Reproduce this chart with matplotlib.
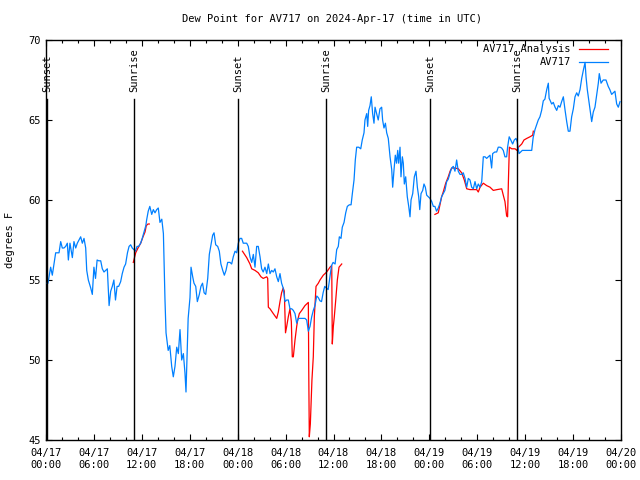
import numpy as np
import pandas as pd
import matplotlib
matplotlib.use("Agg")
import matplotlib.pyplot as plt
import matplotlib.dates as mdates
from matplotlib.ticker import MultipleLocator

plt.rcParams["font.family"] = ["DejaVu Sans Mono"]
FS = 7.5

START = pd.Timestamp("2024-04-17 00:00")

# AV717 observed dew point (hours after 04/17 00:00 UTC, deg F)
obs_hours = [
    0.16, 0.25, 0.58, 0.79, 1.21, 1.63, 1.84, 2.04, 2.25, 2.46, 2.67, 2.8, 3.0, 3.3, 3.5,
    3.72, 3.92, 4.13, 4.34, 4.55, 4.76, 4.97, 5.1, 5.3, 5.6, 5.8, 6.0, 6.2, 6.4, 6.6,
    6.85, 7.05, 7.26, 7.68, 7.9, 8.1, 8.3, 8.5, 8.7, 8.9, 9.1, 9.35, 9.55, 9.77, 9.97,
    10.2, 10.4, 10.6, 10.8, 11.0, 11.2, 11.4, 11.6, 11.85, 12.05, 12.27, 12.5, 12.6, 12.8,
    13.0, 13.24, 13.44, 13.65, 13.86, 14.06, 14.27, 14.5, 14.7, 14.78, 14.9, 15.03, 15.3,
    15.5, 15.74, 15.94, 16.15, 16.37, 16.57, 16.78, 16.99, 17.2, 17.4, 17.53, 17.7, 17.8,
    18.03, 18.16, 18.37, 18.53, 18.75, 18.95, 19.2, 19.4, 19.6, 19.8, 20.0, 20.25, 20.45,
    20.66, 20.87, 21.04, 21.25, 21.5, 21.7, 21.9, 22.13, 22.33, 22.54, 22.75, 23.04, 23.25,
    23.45, 23.67, 23.88, 24.08, 24.29, 24.5, 24.7, 25.13, 25.33, 25.54, 25.76, 25.96, 26.17,
    26.38, 26.58, 26.8, 27.0, 27.2, 27.42, 27.64, 27.84, 28.05, 28.26, 28.46, 28.67, 28.89,
    29.09, 29.3, 29.5, 29.7, 29.93, 30.14, 30.34, 30.55, 30.77, 30.97, 31.18, 31.39, 31.6,
    31.8, 32.2, 32.43, 32.64, 32.85, 33.06, 33.27, 33.47, 33.68, 33.9, 34.1, 34.3, 34.5,
    34.7, 34.9, 35.1, 35.33, 35.5, 35.75, 35.95, 36.2, 36.4, 36.6, 36.73, 36.94, 37.1,
    37.32, 37.53, 37.73, 37.98, 38.2, 38.36, 38.57, 38.73, 38.9, 39.16, 39.41, 39.6, 39.82,
    39.94, 40.16, 40.28, 40.4, 40.57, 40.73, 40.9, 41.07, 41.2, 41.4, 41.6, 41.82, 42.03,
    42.15, 42.32, 42.5, 42.66, 42.86, 43.08, 43.29, 43.41, 43.58, 43.74, 43.9, 44.04, 44.16,
    44.33, 44.45, 44.62, 44.74, 44.87, 45.04, 45.24, 45.42, 45.58, 45.71, 45.92, 46.12,
    46.33, 46.5, 46.67, 46.8, 46.96, 47.17, 47.33, 47.5, 47.67, 47.87, 48.08, 48.3, 48.5,
    48.7, 48.9, 49.12, 49.33, 49.54, 49.74, 49.95, 50.17, 50.37, 50.6, 50.8, 51.0, 51.21,
    51.42, 51.62, 51.84, 52.05, 52.25, 52.47, 52.68, 52.88, 53.09, 53.3, 53.51, 53.72,
    53.93, 54.13, 54.35, 54.56, 54.76, 54.97, 55.18, 55.38, 55.6, 55.8, 55.93, 56.2, 56.43,
    56.63, 56.85, 57.05, 57.26, 57.47, 57.68, 57.8, 58.0, 58.2, 58.43, 58.64, 58.85, 59.0,
    59.23, 59.44, 59.64, 59.85, 60.1, 60.48, 60.82, 61.0, 61.23, 61.44, 61.64, 61.85, 62.06,
    62.27, 62.47, 62.7, 62.9, 63.0, 63.1, 63.32, 63.52, 63.74, 63.95, 64.15, 64.36, 64.57,
    64.78, 65.0, 65.2, 65.4, 65.61, 65.82, 66.03, 66.24, 66.45, 66.65, 66.87, 67.08, 67.28,
    67.5, 67.62, 67.78, 67.96, 68.12, 68.33, 68.53, 68.74, 68.96, 69.16, 69.28, 69.5, 69.78,
    70.12, 70.4, 70.6, 70.83, 71.03, 71.24, 71.46, 71.66, 71.88,
]
obs_dewpt = [
    54.8, 54.8, 55.8, 55.3, 56.7, 56.7, 57.4, 57.0, 57.0, 57.1, 57.3, 56.25, 57.3, 56.4, 57.4,
    57.0, 57.3, 57.5, 57.7, 57.3, 57.6, 57.0, 55.6, 55.0, 54.5, 54.1, 55.8, 55.1, 56.25, 56.2,
    56.2, 55.7, 55.5, 55.7, 53.4, 54.3, 54.6, 55.0, 53.75, 54.6, 54.6, 54.9, 55.4, 55.8, 56.0,
    56.7, 57.1, 57.2, 57.0, 56.9, 56.8, 57.1, 57.1, 57.3, 57.6, 58.0, 58.4, 58.75, 59.3,
    59.6, 59.1, 59.4, 59.2, 59.4, 59.5, 58.6, 58.8, 57.9, 56.25, 53.75, 51.7, 50.6,
    50.9, 49.6, 48.95, 49.6, 50.8, 50.4, 51.9, 50.0, 50.4, 49.2, 48.0, 50.8, 52.6,
    53.9, 55.8, 55.2, 54.8, 54.6, 53.65, 54.1, 54.6, 54.8, 54.2, 54.1, 55.1, 56.6,
    57.2, 57.8, 57.95, 57.2, 57.1, 56.8, 56.0, 55.6, 55.3, 55.6, 56.1, 56.1, 56.0,
    56.45, 56.8, 56.7, 57.3, 57.6, 57.6, 57.3, 57.3, 57.1, 56.45, 56.1, 56.6, 55.8,
    57.1, 57.1, 56.45, 55.7, 55.5, 55.8, 55.4, 56.0, 55.4, 55.6, 55.5, 55.7, 55.2,
    54.9, 55.4, 54.8, 54.5, 53.65, 53.75, 53.75, 53.2, 53.2, 53.1, 52.9, 52.3, 52.6,
    52.6, 52.6, 52.6, 52.5, 51.8, 52.1, 52.7, 53.1, 53.4, 54.0, 53.9, 53.7, 53.65,
    54.2, 54.6, 54.5, 54.4, 55.0, 55.9, 56.1, 56.0, 56.9, 57.1, 57.7, 57.6, 58.3,
    58.6, 59.2, 59.6, 59.7, 59.7, 60.4, 61.25, 62.5, 63.3, 63.3, 63.2, 63.75, 64.2,
    65.0, 65.4, 64.6, 65.6, 65.9, 66.45, 65.4, 64.8, 65.8, 65.4, 65.0, 65.7, 65.8,
    65.0, 64.5, 64.8, 64.2, 63.85, 62.7, 61.9, 60.8, 61.9, 62.8, 62.3, 63.1, 62.3,
    63.3, 61.45, 62.7, 62.3, 61.0, 61.45, 60.2, 59.6, 58.95, 60.0, 60.4, 61.45,
    61.8, 60.8, 60.2, 59.4, 60.4, 60.6, 61.0, 60.8, 60.3, 60.2, 60.1, 59.9, 59.6,
    59.6, 59.3, 59.5, 59.8, 60.2, 60.4, 60.6, 61.15, 61.3, 61.7, 62.0, 62.1, 61.8,
    62.5, 61.8, 61.6, 61.6, 61.7, 61.35, 60.8, 61.35, 61.25, 60.8, 60.7, 61.15,
    60.7, 61.0, 60.8, 61.15, 62.7, 62.7, 62.6, 62.7, 62.8, 62.0, 62.9, 63.0, 63.0,
    63.3, 63.3, 63.25, 63.1, 62.7, 62.7, 63.3, 63.95, 63.75, 63.5, 63.75, 63.85, 63.65,
    62.9, 63.0, 63.1, 63.1, 63.1, 63.1, 63.1, 63.9, 64.4, 64.7, 65.0, 65.2, 65.6,
    66.2, 66.3, 66.9, 67.3, 66.35, 66.25, 66.0, 66.1, 65.8, 65.6, 65.9, 65.8, 66.15,
    66.45, 65.6, 64.9, 64.3, 64.3, 65.2, 65.7, 66.45, 66.7, 66.5, 66.9, 67.6, 68.1,
    68.6, 67.7, 66.9, 66.25, 65.7, 64.9, 65.5, 65.8, 66.6, 67.3, 67.9, 67.3, 67.5,
    67.5, 67.1, 66.9, 66.6, 66.7, 66.8, 66.0, 65.8, 66.15,
]

# AV717 Analysis (NaN marks gaps)
ana_hours = [
    10.93, 11.23, 11.52, 11.86, 12.15, 12.4, 12.56, 12.77, 12.93, 13.0,
    24.6, 25.13, 25.54, 25.76, 26.17, 26.58, 26.92, 27.2, 27.64, 27.76, 27.84, 28.05,
    28.46, 28.89, 29.09, 29.3, 29.5, 29.7, 29.84, 29.99, 30.14, 30.34, 30.55, 30.72,
    30.84, 30.97, 31.18, 31.39, 31.52, 31.72, 32.02, 32.43, 32.85, 32.9, 32.97, 33.1,
    33.18, 33.3, 33.47, 33.6, 33.81, 34.1, 34.31, 34.72, 35.15, 35.56, 35.78, 35.85,
    35.98, 36.1, 36.28, 36.48, 36.69, 37.03, 37.1,
    48.7, 49.12, 49.33, 49.54, 49.74, 50.05, 50.37, 50.6, 50.8, 51.21, 51.62, 52.05,
    52.38, 52.68, 53.09, 53.51, 53.93, 54.13, 54.35, 54.76, 55.18, 55.6, 56.01, 56.48,
    57.06, 57.26, 57.47, 57.68, 57.8, 57.9, 58.02, 58.32, 58.74, 58.96, 59.16, 59.57,
    59.85, 60.2, 60.6, 60.94, 61.02,
]
ana_dewpt = [
    56.1, 56.7, 57.0, 57.3, 57.7, 58.0, 58.4, 58.5, 58.5, np.nan,
    56.8, 56.4, 56.0, 55.7, 55.6, 55.45, 55.2, 55.1, 55.2, 55.1, 53.3, 53.2,
    52.9, 52.6, 53.0, 53.65, 54.2, 54.5, 54.3, 51.7, 52.1, 52.7, 53.2, 52.4,
    50.2, 50.2, 51.25, 52.1, 52.5, 52.9, 53.1, 53.4, 53.6, 49.4, 45.2, 46.0,
    47.1, 48.75, 50.2, 52.7, 54.6, 54.8, 55.0, 55.3, 55.5, 55.8, 55.9, 51.0,
    52.1, 52.7, 53.75, 55.0, 55.8, 56.0, np.nan,
    59.1, 59.2, 59.7, 60.2, 60.5, 61.05, 61.45, 61.8, 62.0, 62.0, 61.95, 61.7,
    61.25, 60.7, 60.65, 60.65, 60.65, 60.5, 60.8, 61.05, 60.9, 60.8, 60.6, 60.65,
    60.7, 60.3, 59.9, 59.0, 58.95, 61.15, 63.3, 63.2, 63.2, 63.1, 63.3, 63.5,
    63.75, 63.85, 63.95, 64.05, 64.3,
]

# Sun events (hours after start)
sun_hours = [0.12, 11.02, 24.08, 35.06, 48.08, 58.98]
sun_labels = ["Sunset", "Sunrise", "Sunset", "Sunrise", "Sunset", "Sunrise"]


def to_time(hours):
    return START + pd.to_timedelta(hours, unit="h")


fig = plt.figure(figsize=(6.4, 4.8), dpi=100)
ax = fig.add_axes([46 / 640, 40 / 480, 575 / 640, 400 / 480])

ax.plot(to_time(ana_hours), ana_dewpt, color="#ff0000", lw=0.9, label="AV717 Analysis", zorder=3)
ax.plot(to_time(obs_hours), obs_dewpt, color="#0080ff", lw=0.9, label="AV717", zorder=4)

ax.set_xlim(START, START + pd.Timedelta(hours=72))
ax.set_ylim(45, 70)
line_top = 66.3
for h, lab in zip(sun_hours, sun_labels):
    t = to_time(h)
    ax.plot([t, t], [45, line_top], color="black", lw=1.0, zorder=5)
    ax.text(t, 66.75, lab, rotation=90, ha="center", va="bottom", fontsize=FS)

ax.xaxis.set_major_locator(mdates.HourLocator(byhour=[0, 6, 12, 18]))
ax.xaxis.set_minor_locator(mdates.HourLocator(interval=2))
ax.xaxis.set_major_formatter(mdates.DateFormatter("%m/%d\n%H:%M"))
ax.yaxis.set_major_locator(MultipleLocator(5))

ax.tick_params(which="both", direction="in", top=True, right=True, labelsize=FS)
ax.tick_params(which="major", length=4, width=0.8)
ax.tick_params(which="minor", length=2.5, width=0.8)
ax.tick_params(axis="x", pad=6)
ax.tick_params(axis="y", pad=4)
for s in ax.spines.values():
    s.set_linewidth(1.0)

ax.set_ylabel("degrees F", fontsize=FS, labelpad=9)
fig.text(332 / 640, 1 - 19 / 480, "Dew Point for AV717 on 2024-Apr-17 (time in UTC)",
         ha="center", va="center", fontsize=FS)

ax.legend(loc="upper right", bbox_to_anchor=(0.985, 1.0), borderaxespad=0.0,
          frameon=False, fontsize=FS, markerfirst=False,
          handlelength=2.8, labelspacing=0.3, handletextpad=0.8)

fig.savefig("out.png", dpi=100)
